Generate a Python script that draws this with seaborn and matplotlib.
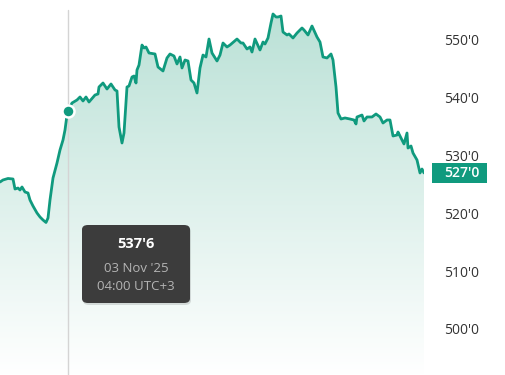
import numpy as np
import pandas as pd
import matplotlib
matplotlib.use("Agg")
import matplotlib.pyplot as plt
import seaborn as sns
from matplotlib.colors import LinearSegmentedColormap
from matplotlib.patches import FancyBboxPatch, Rectangle
import matplotlib.transforms as mtransforms

# ---- data (time index, price) ----
time_idx = [0, 3, 8, 13, 15, 18, 20, 22, 25, 28, 30, 33, 37, 40, 43, 46, 48, 50, 53, 57,
            60, 63, 65, 67, 68, 72, 77, 80, 83, 86, 89, 95, 98, 99, 103, 107, 111, 115, 117, 119,
            122, 124, 127, 129, 132, 134, 136, 137, 139, 142, 144, 146, 149, 155, 158, 163, 167, 170, 174, 177,
            180, 182, 185, 188, 191, 194, 197, 200, 203, 206, 209, 212, 217, 220, 223, 227, 230, 237, 241, 243,
            247, 250, 252, 255, 260, 263, 265, 268, 271, 273, 276, 278, 281, 283, 287, 289, 293, 297, 302, 304,
            308, 312, 317, 320, 323, 327, 331, 333, 336, 338, 341, 345, 350, 354, 356, 357, 362, 364, 367, 372,
            376, 380, 383, 387, 390, 393, 397, 398, 402, 404, 407, 408, 411, 413, 417, 420, 422, 424]
price = [525.43, 525.78, 526.04, 525.95, 524.22, 524.39, 524.05, 524.57, 523.70, 523.53,
         522.32, 521.28, 520.07, 519.38, 518.86, 518.43, 519.20, 522.32, 526.12, 528.72,
         530.97, 532.70, 534.43, 537.02, 537.75, 539.10, 539.62, 540.14, 539.45, 540.14,
         539.27, 540.48, 540.66, 541.87, 542.56, 541.52, 542.39, 541.35, 541.18, 534.95,
         532.18, 533.91, 541.87, 542.04, 543.60, 543.77, 542.56, 544.81, 545.67, 549.13,
         548.62, 548.79, 547.75, 547.58, 545.33, 544.64, 546.89, 547.58, 547.23, 545.85,
         547.06, 545.16, 546.54, 546.37, 543.08, 542.56, 540.83, 545.16, 547.40, 547.06,
         550.17, 547.75, 546.37, 547.40, 549.48, 548.79, 549.13, 550.17, 549.48, 549.48,
         548.44, 548.79, 547.92, 550.17, 548.27, 549.65, 549.31, 550.35, 552.94, 554.50,
         553.98, 553.98, 554.15, 551.38, 550.87, 551.04, 550.35, 551.21, 552.08, 551.73,
         550.87, 552.42, 550.52, 549.65, 547.06, 546.89, 547.58, 546.54, 541.87, 537.37,
         536.33, 536.51, 536.33, 536.16, 535.47, 536.68, 537.02, 535.99, 536.68, 536.68,
         537.20, 536.68, 535.64, 536.16, 536.16, 533.39, 533.56, 534.08, 532.70, 532.01,
         533.91, 531.31, 531.66, 530.45, 529.24, 526.99, 527.68, 527.00]
y_ticks = [500, 510, 520, 530, 540, 550]
hover_time = 68
hover_price = 537.75
hover_label = "537'6"
hover_date = "03 Nov '25"
hover_clock = "04:00 UTC+3"
last_label = "527'0"

df = pd.DataFrame({"t": time_idx, "price": price})

LINE = "#109a7e"
FONT = ["Open Sans", "DejaVu Sans"]

sns.set_style("white")
plt.rcParams["font.family"] = FONT

fig = plt.figure(figsize=(5.05, 3.75), dpi=100)
ax = fig.add_axes([0, 0, 424 / 505, 1])
ymin, ymax = 492.04, 556.92
ax.set_xlim(min(time_idx), max(time_idx))
ax.set_ylim(ymin, ymax)

# gradient fill under curve
cmap = LinearSegmentedColormap.from_list("g", ["#ffffff", "#b8e0d5"])
grad = np.linspace(0, 1, 256).reshape(-1, 1)
im = ax.imshow(grad, extent=[min(time_idx), max(time_idx), ymin, ymax], origin="lower",
               aspect="auto", cmap=cmap, zorder=1)
poly = ax.fill_between(df["t"], df["price"], ymin, color="none", zorder=1)
im.set_clip_path(poly.get_paths()[0], transform=ax.transData)

# crosshair
ax.plot([hover_time, hover_time], [ymin, ymax - 1.75], color="#d4d4d4", lw=1.0, zorder=2)

sns.lineplot(data=df, x="t", y="price", ax=ax, color=LINE, lw=2.0, zorder=3)
ax.scatter([hover_time], [hover_price], s=75, color=LINE, edgecolor="white", linewidth=1.8, zorder=5)

for s in ax.spines.values():
    s.set_visible(False)
ax.set_xlabel("")
ax.set_ylabel("")
ax.set_xticks([])
ax.set_yticks(y_ticks)
ax.yaxis.tick_right()
ax.tick_params(axis="y", length=0, pad=14.4, labelsize=10, labelcolor="#333333")
ax.set_yticklabels([f"{v}'0" for v in y_ticks])
for lbl in ax.get_yticklabels():
    lbl.set_family(FONT)

# last price label
trans = mtransforms.blended_transform_factory(fig.transFigure, ax.transData)
px_per_unit = 375 / (ymax - ymin)
box_h = 20 / px_per_unit
ax.add_patch(Rectangle((432 / 505, price[-1] - box_h / 2), 55 / 505, box_h, transform=trans,
                       fc=LINE, ec="none", clip_on=False, zorder=6))
ax.text(444 / 505, price[-1], last_label, transform=trans, ha="left", va="center",
        color="white", fontsize=10, fontweight="semibold", family=FONT, zorder=7, clip_on=False)

# tooltip
def fx(px):
    return px / 505
def fy(py):
    return 1 - py / 375

shadow = FancyBboxPatch((fx(83), fy(305)), fx(108), 78 / 375,
                        boxstyle="round,pad=0,rounding_size=0.012", transform=fig.transFigure,
                        fc="#000000", ec="none", alpha=0.12, zorder=7)
fig.patches.append(shadow)
box = FancyBboxPatch((fx(82), fy(303)), fx(108), 78 / 375,
                     boxstyle="round,pad=0,rounding_size=0.012", transform=fig.transFigure,
                     fc="#3c3c3c", ec="none", zorder=8)
fig.patches.append(box)
fig.text(fx(136), fy(244), hover_label, ha="center", va="center", color="white",
         fontsize=10.5, fontweight="bold", family=FONT, zorder=9)
fig.text(fx(136), fy(268), hover_date, ha="center", va="center", color="#b4b4b4",
         fontsize=9.5, family=FONT, zorder=9)
fig.text(fx(136), fy(287), hover_clock, ha="center", va="center", color="#b4b4b4",
         fontsize=9.5, family=FONT, zorder=9)

fig.savefig("out.png", dpi=100)
